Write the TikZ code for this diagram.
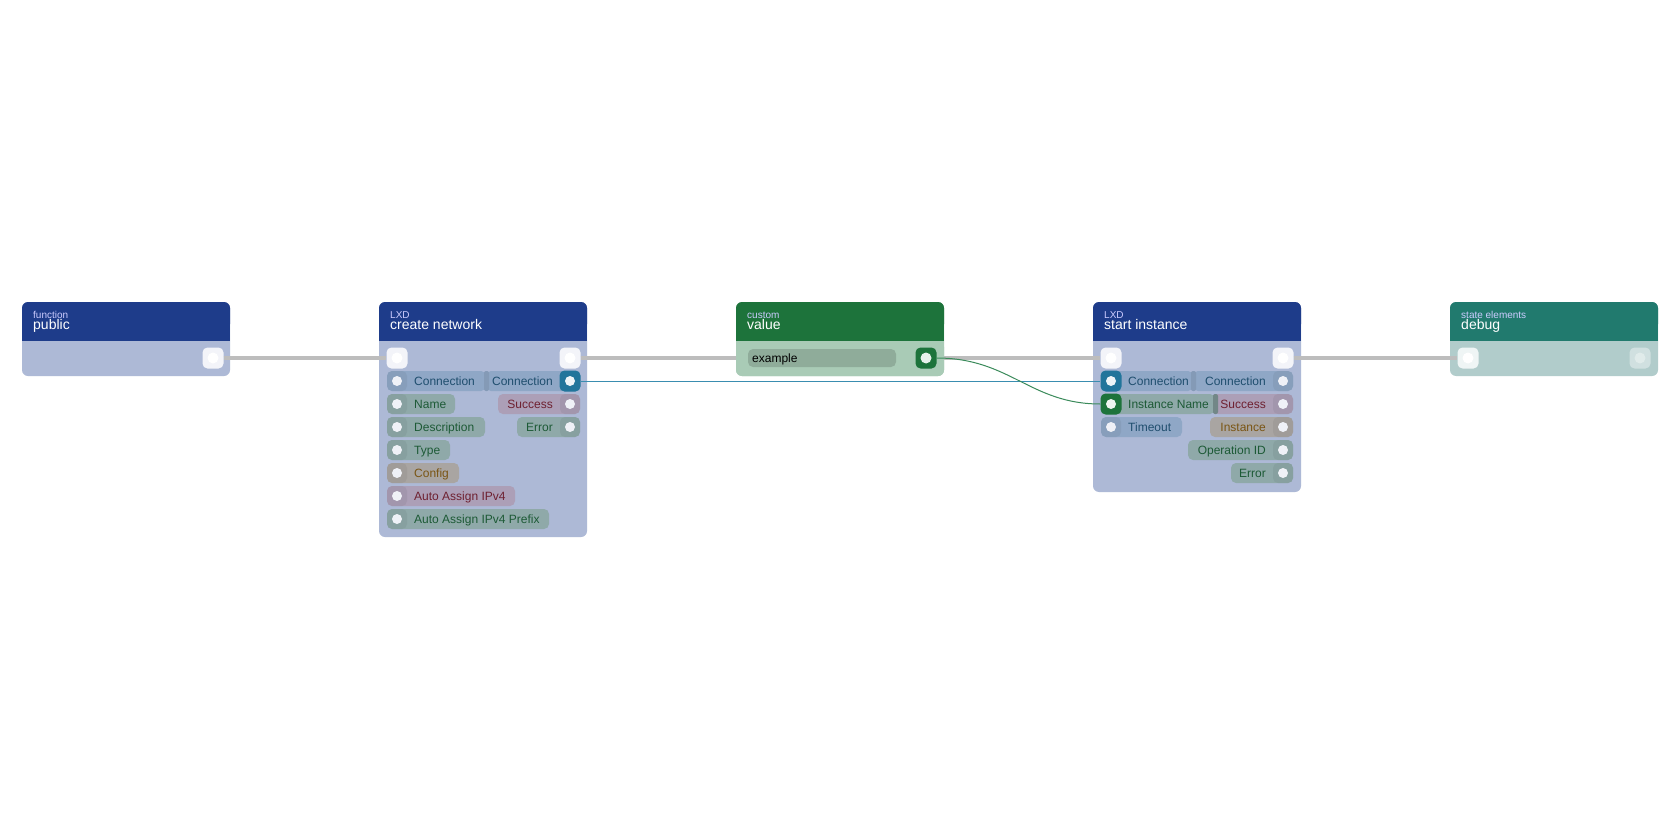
\documentclass[tikz,border=0pt]{standalone}
\usepackage{fontspec}
\setmainfont{Liberation Sans}
\begin{document}
\definecolor{hblue}{HTML}{1E3C8A}
\definecolor{hgreen}{HTML}{1D733B}
\definecolor{hteal}{HTML}{217A6E}
\definecolor{bblue}{HTML}{ADB9D6}
\definecolor{bgreen}{HTML}{A9CBB6}
\definecolor{bteal}{HTML}{B1CCCB}
\definecolor{pconn}{HTML}{8FA7C6}
\definecolor{pgrn}{HTML}{8FA9A9}
\definecolor{pcfg}{HTML}{A9A5A2}
\definecolor{ppink}{HTML}{AC9FB7}
\definecolor{tconn}{HTML}{1F4E6E}
\definecolor{tgrn}{HTML}{1D5A36}
\definecolor{tcfg}{HTML}{7A5514}
\definecolor{tpink}{HTML}{6E2030}
\definecolor{portblue}{HTML}{21759B}
\definecolor{edgegray}{HTML}{BDBDBD}
\definecolor{edgeblue}{HTML}{3A8DB0}
\definecolor{edgegreen}{HTML}{3A8A5A}
\begin{tikzpicture}[x=1pt,y=-1pt,
  lbl/.style={font=\fontsize{12}{12}\selectfont,anchor=base west,inner sep=0pt},
  cat/.style={font=\fontsize{10}{10}\selectfont,anchor=base west,inner sep=0pt,text=white!80!blue},
  ttl/.style={font=\fontsize{14}{14}\selectfont,anchor=base west,inner sep=0pt,text=white},
  dot/.style={circle,fill=#1,minimum size=10pt,inner sep=0pt},
  sq/.style={rounded corners=5pt,fill=#1,minimum size=21pt,inner sep=0pt},
  pill/.style={rounded corners=5pt,fill=#1,minimum height=20pt,inner sep=0pt}]
\useasboundingbox (0,0) rectangle (1680,840);
\fill[white] (0,0) rectangle (1680,840);
% macros
\newcommand\mynode[7]{% name x y2 headcol bodycol cat title
  \fill[#5,rounded corners=6pt] (#2,302) rectangle (#2+208,#3);
  \fill[#4,rounded corners=6pt] (#2,302) rectangle (#2+208,330);
  \fill[#4] (#2,318) rectangle (#2+208,341);
  \node[cat] (#1cat) at (#2+11,318) {#6};
  \node[ttl] (#1ttl) at (#2+11,329.5) {#7};
  \coordinate (#1box) at (#2+104,320);}
\newcommand\pinL[8]{% name y x1 x2 fill text label dotcol
  \fill[pill=#5] (#3,#2-10) rectangle (#4,#2+10);
  \fill[#5!85!black,opacity=.35,rounded corners=5pt] (#3,#2-10) rectangle (#3+20,#2+10);
  \node[dot=#8] (#1) at (#3+10,#2) {};
  \node[lbl,text=#6] (#1t) at (#3+27,#2+4.3) {#7};}
\newcommand\pinR[8]{%
  \fill[pill=#5] (#3,#2-10) rectangle (#4,#2+10);
  \fill[#5!85!black,opacity=.35,rounded corners=5pt] (#4-20,#2-10) rectangle (#4,#2+10);
  \node[dot=#8] (#1) at (#4-10,#2) {};
  \node[lbl,text=#6,anchor=base east] (#1t) at (#4-27,#2+4.3) {#7};}
% nodes
\mynode{n1}{22}{376}{hblue}{bblue}{function}{public}
\mynode{n2}{379}{537}{hblue}{bblue}{LXD}{create network}
\mynode{n3}{736}{376}{hgreen}{bgreen}{custom}{value}
\mynode{n4}{1093}{492}{hblue}{bblue}{LXD}{start instance}
\mynode{n5}{1450}{376}{hteal}{bteal}{state elements}{debug}
% exec ports
\node[sq=white!85!bblue] (e1o) at (213,358) {};
\node[sq=white!85!bblue] (e2i) at (397,358) {};
\node[sq=white!85!bblue] (e2o) at (570,358) {};
\node[sq=white!85!bblue] (e4i) at (1111,358) {};
\node[sq=white!85!bblue] (e4o) at (1283,358) {};
\node[sq=white!80!bteal] (e5i) at (1468,358) {};
\node[sq=white!40!bteal] (e5o) at (1640,358) {};
\draw[edgegray,line width=4pt] (e1o.east) -- (e2i.west);
\draw[edgegray,line width=4pt] (e2o.east) -- (e4i.west);
\draw[edgegray,line width=4pt] (e4o.east) -- (e5i.west);
\foreach \n in {e1o,e2i,e2o,e4i,e4o,e5i}{\node[dot=white,minimum size=11pt] at (\n) {};}
\node[dot=white!60!bteal,minimum size=11pt] at (e5o) {};
% node3 body redraw over gray line
\fill[bgreen] (736,341) rectangle (944,370);
\fill[bgreen,rounded corners=6pt] (736,341) rectangle (944,376);
\fill[pill=black!25!bgreen,opacity=.6] (748,349) rectangle (896,367);
\node[lbl,text=black] (ex) at (752,362.3) {example};
\node[sq=hgreen] (n3o) at (926,358) {};
\node[dot=white!90!hgreen,minimum size=11pt] at (n3o) {};
% node2 pins
\pinL{c2i}{381}{387}{486}{pconn}{tconn}{Connection}{white!80!bblue}
\pinR{c2o}{381}{486}{580}{pconn}{tconn}{Connection}{white}
\fill[pconn!92!black,rounded corners=2pt] (484,371) rectangle (489,391);
\pinL{nm}{404}{387}{455}{pgrn}{tgrn}{Name}{white!80!bblue}
\pinL{ds}{427}{387}{485}{pgrn}{tgrn}{Description}{white!80!bblue}
\pinL{ty}{450}{387}{450}{pgrn}{tgrn}{Type}{white!80!bblue}
\pinL{cf}{473}{387}{459}{pcfg}{tcfg}{Config}{white!80!bblue}
\pinL{aa}{496}{387}{515}{ppink}{tpink}{Auto Assign IPv4}{white!80!bblue}
\pinL{ap}{519}{387}{549}{pgrn}{tgrn}{Auto Assign IPv4 Prefix}{white!80!bblue}
\pinR{sc2}{404}{498}{580}{ppink}{tpink}{Success}{white!80!bblue}
\pinR{er2}{427}{517}{580}{pgrn}{tgrn}{Error}{white!80!bblue}
% node4 pins
\pinL{c4i}{381}{1101}{1193}{pconn}{tconn}{Connection}{white}
\pinR{c4o}{381}{1193}{1293}{pconn}{tconn}{Connection}{white!80!bblue}
\fill[pconn!92!black,rounded corners=2pt] (1191,371) rectangle (1196,391);
\node[sq=portblue] (c4is) at (1111,381) {};
\node[dot=white!92!portblue] at (c4is) {};
\pinR{sc4}{404}{1213}{1293}{ppink}{tpink}{Success}{white!80!bblue}
\pinL{in4}{404}{1101}{1215}{pgrn}{tgrn}{Instance Name}{white}
\fill[pgrn!80!black,rounded corners=2pt] (1213,394) rectangle (1218,414);
\node[sq=hgreen] (in4s) at (1111,404) {};
\node[dot=white!92!hgreen] at (in4s) {};
\pinL{to4}{427}{1101}{1182}{pconn}{tconn}{Timeout}{white!80!bblue}
\pinR{is4}{427}{1210}{1293}{pcfg}{tcfg}{Instance}{white!80!bblue}
\pinR{op4}{450}{1188}{1293}{pgrn}{tgrn}{Operation ID}{white!80!bblue}
\pinR{er4}{473}{1231}{1293}{pgrn}{tgrn}{Error}{white!80!bblue}
% data edges
\node[sq=portblue] (c2os) at (570,381) {};
\draw[edgeblue,line width=1pt] (c2os.east) -- (c4is.west);
\draw[edgegreen,line width=1pt] (n3o.east) .. controls (1010,358) and (1030,404) .. (in4s.west);
\node[dot=white!92!portblue] at (c2os) {};
\end{tikzpicture}
\end{document}
